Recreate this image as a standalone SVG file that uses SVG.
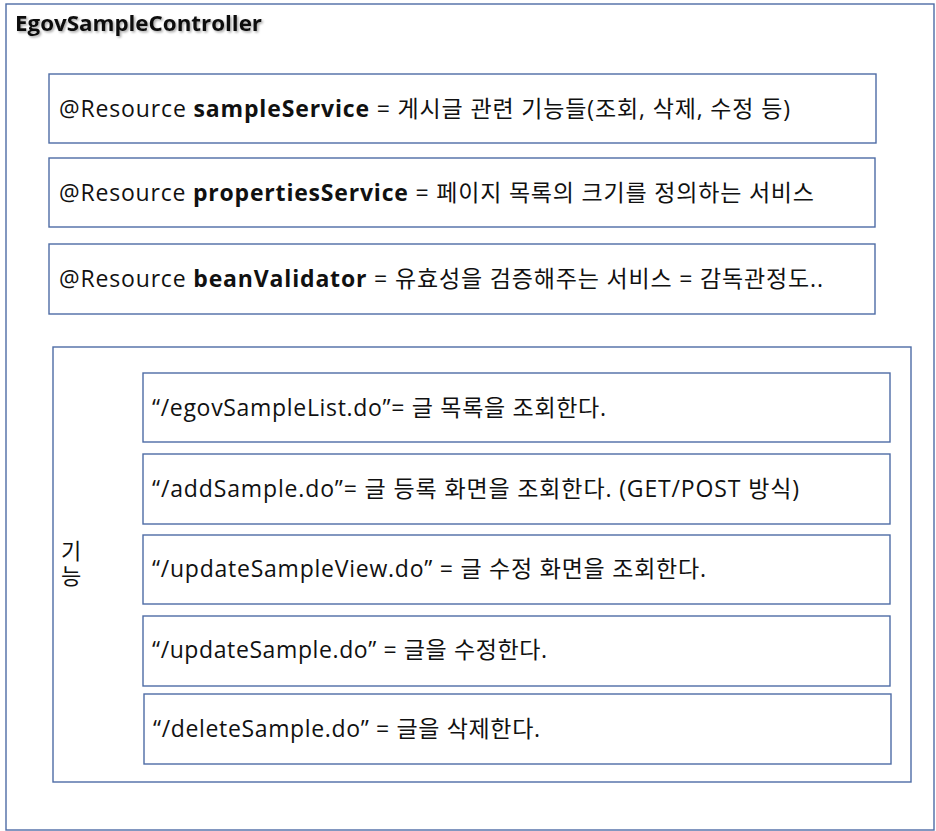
<svg xmlns="http://www.w3.org/2000/svg" width="936" height="831" viewBox="0 0 936 831">
<defs>
<filter id="sh" x="-5%" y="-20%" width="110%" height="150%"><feDropShadow dx="1.5" dy="1.5" stdDeviation="0.8" flood-color="#000" flood-opacity="0.35"/></filter>
</defs>
<style>
rect{fill:#fff;stroke:#4e6ca5;stroke-width:1.4}
text{font-family:"Open Sans","Noto Sans CJK KR",sans-serif;font-size:23px;fill:#111}
.b{font-weight:bold}
.t{font-weight:bold;font-size:21.5px}
.v{writing-mode:vertical-rl;text-orientation:upright;letter-spacing:3px;font-family:"Noto Sans CJK KR",sans-serif;font-size:22px}
</style>
<rect width="936" height="831" style="stroke:none"/>
<g id="controller">
<rect x="6" y="4" width="928" height="826"/>
<text class="t" x="15" y="31" textLength="247" lengthAdjust="spacingAndGlyphs" filter="url(#sh)">EgovSampleController</text>
</g>
<g id="sampleService">
<rect x="49" y="74" width="827" height="69"/>
<text x="59" y="117" textLength="731">@Resource <tspan class="b">sampleService</tspan> = 게시글 관련 기능들(조회, 삭제, 수정 등)</text>
</g>
<g id="propertiesService">
<rect x="49" y="158" width="826" height="69"/>
<text x="59" y="201" textLength="755">@Resource <tspan class="b">propertiesService</tspan> = 페이지 목록의 크기를 정의하는 서비스</text>
</g>
<g id="beanValidator">
<rect x="49" y="244" width="826" height="70"/>
<text x="59" y="287" textLength="764">@Resource <tspan class="b">beanValidator</tspan> = 유효성을 검증해주는 서비스 = 감독관정도..</text>
</g>
<g id="functions">
<rect x="53" y="347" width="858" height="435"/>
<text class="v" x="71" y="540">기능</text>
</g>
<g id="egovSampleList">
<rect x="143" y="373" width="747" height="69"/>
<text x="152" y="416" textLength="454">“/egovSampleList.do”=  글 목록을 조회한다.</text>
</g>
<g id="addSample">
<rect x="143" y="454" width="747" height="70"/>
<text x="152" y="497" textLength="647">“/addSample.do”=  글 등록 화면을 조회한다. (GET/POST 방식)</text>
</g>
<g id="updateSampleView">
<rect x="143" y="535" width="747" height="69"/>
<text x="152" y="577" textLength="554">“/updateSampleView.do”  = 글 수정 화면을 조회한다.</text>
</g>
<g id="updateSample">
<rect x="143" y="616" width="747" height="70"/>
<text x="152" y="658" textLength="395">“/updateSample.do”  = 글을 수정한다.</text>
</g>
<g id="deleteSample">
<rect x="144" y="694" width="747" height="70"/>
<text x="153" y="737" textLength="387">“/deleteSample.do”  = 글을 삭제한다.</text>
</g>
<g id="connectors"/>
</svg>
